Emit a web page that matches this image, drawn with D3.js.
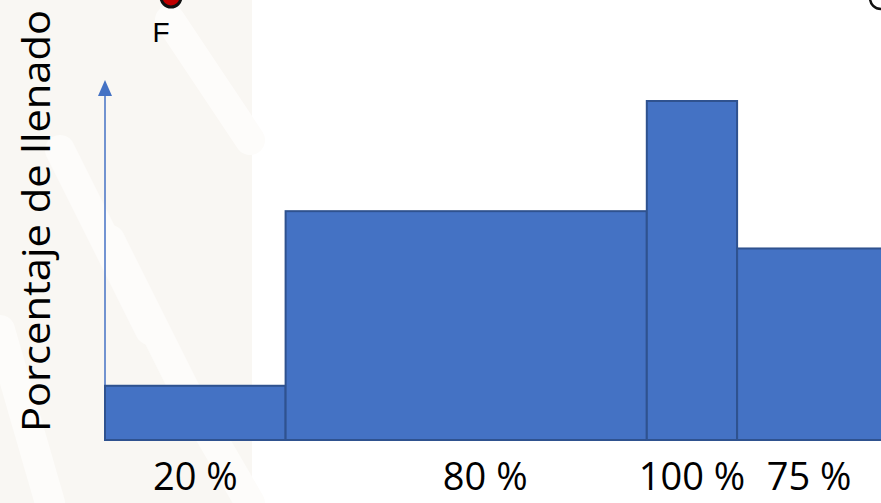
<!DOCTYPE html>
<html>
<head>
<meta charset="utf-8">
<script src="https://cdn.jsdelivr.net/npm/d3@7"></script>
<style>
  body { margin: 0; background: #fff; }
  svg { display: block; }
</style>
</head>
<body>
<div id="chart"></div>
<script>
// etiquetas de cada tramo y su nivel de llenado (altura, 100 = tramo mas alto)
let labels = ["20 %", "80 %", "100 %", "75 %"];
let widths = [2, 4, 1, 2];          // duracion de cada tramo
let levels = [16, 67.5, 100, 56.5]; // altura relativa

let width = 881, height = 503;
let baseY = 440, left = 105;

let svg = d3.select("#chart").append("svg")
  .attr("width", width).attr("height", height);

// fondo tenue tipo marca de agua
svg.append("rect").attr("x", 0).attr("y", 0).attr("width", 252).attr("height", height).attr("fill", "#f9f7f3");
let stripes = [[60, 150, 150, 330], [170, 20, 250, 140], [110, 240, 200, 420], [0, 330, 50, 503], [190, 400, 250, 503]];
svg.selectAll(".stripe").data(stripes).enter().append("line")
  .attr("x1", d => d[0]).attr("y1", d => d[1]).attr("x2", d => d[2]).attr("y2", d => d[3])
  .attr("stroke", "#fdfcfa").attr("stroke-width", 30).attr("stroke-linecap", "round");

let edges = [0];
widths.forEach(w => edges.push(edges[edges.length - 1] + w));

let x = d3.scaleLinear().domain([0, 9]).range([left, left + 9 * 90.3]);
let y = d3.scaleLinear().domain([0, 100]).range([baseY, 101]);

let data = labels.map((l, i) => ({ label: l, x0: edges[i], x1: edges[i + 1], v: levels[i] }));

// eje vertical con flecha
svg.append("line")
  .attr("x1", left).attr("x2", left).attr("y1", baseY).attr("y2", 94)
  .attr("stroke", "#4472c4").attr("stroke-width", 1.5);
svg.append("path")
  .attr("d", `M${left},80 L${left + 7},96 L${left - 7},96 Z`)
  .attr("fill", "#4472c4");

svg.selectAll(".bar").data(data).enter().append("rect")
  .attr("class", "bar")
  .attr("x", d => x(d.x0))
  .attr("y", d => y(d.v))
  .attr("width", d => x(d.x1) - x(d.x0))
  .attr("height", d => baseY - y(d.v))
  .attr("fill", "#4472c4")
  .attr("stroke", "#2f528f")
  .attr("stroke-width", 2);

svg.selectAll(".lbl").data(data).enter().append("text")
  .attr("x", (d, i) => (x(d.x0) + Math.min(x(d.x1), width)) / 2 + (i === 1 ? 19 : 0))
  .attr("y", 490)
  .attr("text-anchor", "middle")
  .attr("font-family", "Open Sans, sans-serif")
  .attr("font-size", 38)
  .attr("fill", "#000")
  .text(d => d.label);

svg.append("text")
  .attr("transform", "translate(50,432) rotate(-90)")
  .attr("font-family", "Open Sans, sans-serif")
  .attr("font-size", 38)
  .attr("textLength", 422)
  .attr("lengthAdjust", "spacingAndGlyphs")
  .attr("fill", "#000")
  .text("Porcentaje de llenado");

// marcas de la parte superior
svg.append("circle").attr("cx", 171).attr("cy", -3).attr("r", 10)
  .attr("fill", "#c00000").attr("stroke", "#111").attr("stroke-width", 3);
svg.append("text").attr("x", 161).attr("y", 42).attr("text-anchor", "middle")
  .attr("font-family", "Liberation Sans, Arial, sans-serif").attr("font-size", 28)
  .text("F");
svg.append("circle").attr("cx", 881).attr("cy", -2).attr("r", 11)
  .attr("fill", "#fff").attr("stroke", "#111").attr("stroke-width", 2.5);
</script>
</body>
</html>
